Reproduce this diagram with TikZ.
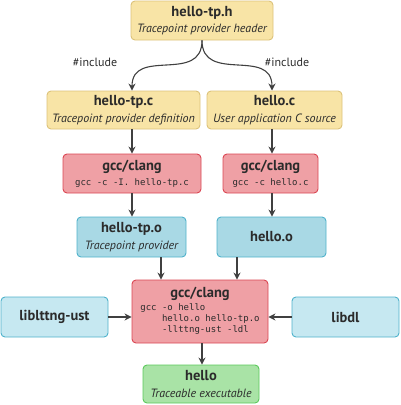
\documentclass[tikz,border=0pt]{standalone}
\usepackage{fontspec}
\setmainfont{PT Sans}
\setmonofont{DejaVu Sans Mono}
\usetikzlibrary{arrows.meta,calc}
\definecolor{yfill}{HTML}{F8E4A6}
\definecolor{ydraw}{HTML}{DCC27A}
\definecolor{rfill}{HTML}{EFA0A5}
\definecolor{rdraw}{HTML}{DA4653}
\definecolor{bfill}{HTML}{A9D9E5}
\definecolor{bdraw}{HTML}{4FB2CB}
\definecolor{lfill}{HTML}{C6E8F1}
\definecolor{gfill}{HTML}{A9E3A6}
\definecolor{gdraw}{HTML}{5CC95C}
\definecolor{txt}{HTML}{2B2B2B}
\definecolor{arrc}{HTML}{404040}
\tikzset{
  box/.style={draw, rounded corners=4pt, line width=0.9pt, inner sep=0pt, align=center, text=txt},
  ybox/.style={box, fill=yfill, draw=ydraw},
  rbox/.style={box, fill=rfill, draw=rdraw},
  bbox/.style={box, fill=bfill, draw=bdraw},
  lbox/.style={box, fill=lfill, draw=bdraw},
  gbox/.style={box, fill=gfill, draw=gdraw},
  arr/.style={draw=arrc, line width=1.1pt, -{Stealth[length=7pt,width=7pt]}},
  lbl/.style={text=txt, font=\fontsize{12}{14}\selectfont},
}
\newcommand{\ttl}[1]{{\fontsize{14.5}{15}\selectfont\bfseries #1}}
\newcommand{\sub}[1]{{\fontsize{12}{13}\selectfont\itshape #1}}
\newcommand{\cmd}[1]{{\fontsize{9}{11}\ttfamily #1}}
\begin{document}
\begin{tikzpicture}[x=1pt,y=-1pt]
\useasboundingbox (0,0) rectangle (400,405);
\node[ybox, minimum width=142pt, minimum height=39pt] (h) at (202,20.5) {\ttl{hello-tp.h}\\[4.5pt]\sub{Tracepoint provider header}};
\node[ybox, minimum width=153pt, minimum height=38pt] (tpc) at (123.5,110) {\ttl{hello-tp.c}\\[4.5pt]\sub{Tracepoint provider definition}};
\node[ybox, minimum width=135pt, minimum height=38pt] (hc) at (274.5,110) {\ttl{hello.c}\\[4.5pt]\sub{User application C source}};
\node[rbox, minimum width=138pt, minimum height=39pt] (g1) at (132,173.5) {\ttl{gcc/clang}\\[3pt]\cmd{gcc -c -I. hello-tp.c}};
\node[rbox, minimum width=95pt, minimum height=39pt] (g2) at (270.5,173.5) {\ttl{gcc/clang}\\[3pt]\cmd{gcc -c hello.c}};
\node[bbox, minimum width=109pt, minimum height=40pt] (tpo) at (131.5,237) {\ttl{hello-tp.o}\\[4.5pt]\sub{Tracepoint provider}};
\node[bbox, minimum width=109pt, minimum height=40pt] (ho) at (271.5,237) {\ttl{hello.o}};
\node[rbox, minimum width=136pt, minimum height=63pt] (g3) at (200,311.5) {\ttl{gcc/clang}\\[1pt]
  \begin{tabular}{@{}l@{}}\cmd{gcc -o hello}\\[-1pt]\cmd{\ \ \ \ hello.o hello-tp.o}\\[-1pt]\cmd{\ \ \ \ -llttng-ust -ldl}\end{tabular}};
\node[lbox, minimum width=107pt, minimum height=40pt] (l1) at (54.5,317) {\ttl{liblttng-ust}};
\node[lbox, minimum width=107pt, minimum height=40pt] (l2) at (345.5,317) {\ttl{libdl}};
\node[gbox, minimum width=116pt, minimum height=38pt] (he) at (201,384) {\ttl{hello}\\[4.5pt]\sub{Traceable executable}};
% connectors
\draw[arr] (h.south) to[out=-90,in=90,looseness=1.3] (g1.north |- tpc.north);
\draw[arr] (h.south) to[out=-90,in=90,looseness=1.3] (272,90.5) coordinate (rt);
\node[lbl] (inc1) at (95,62) {\#include};
\node[lbl] (inc2) at (287,62) {\#include};
\draw[arr] (g1.north |- tpc.south) -- (g1.north);
\draw[arr] (272,129) coordinate (a2) -- (a2 |- g2.north);
\draw[arr] (g1.south) -- (g1.south |- tpo.north);
\draw[arr] (a2 |- g2.south) -- (a2 |- ho.north);
\draw[arr] ([xshift=29.5pt]tpo.south) coordinate (a3) -- (a3 |- g3.north);
\draw[arr] ([xshift=-34.5pt]ho.south) coordinate (a4) -- (a4 |- g3.north);
\draw[arr] (l1.east) -- (l1.east -| g3.west);
\draw[arr] (l2.west) -- (l2.west -| g3.east);
\draw[arr] ([xshift=2pt]g3.south) coordinate (a5) -- (a5 |- he.north);
\end{tikzpicture}
\end{document}
